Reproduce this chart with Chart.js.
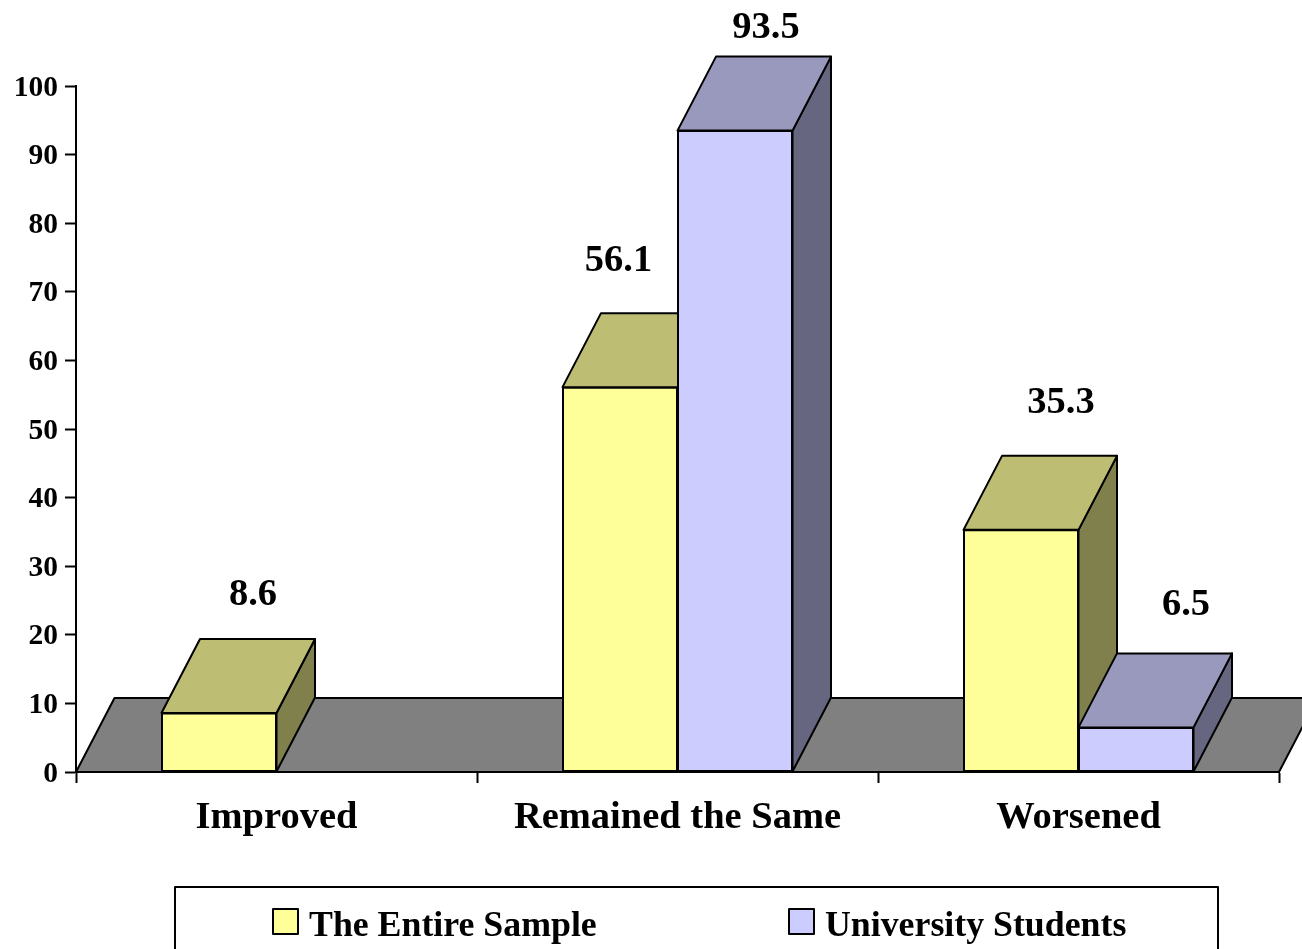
<!DOCTYPE html>
<html>
<head>
<meta charset="utf-8">
<title>Chart</title>
<script src="https://cdn.jsdelivr.net/npm/chart.js@4"></script>
<style>
  html, body { margin: 0; padding: 0; background: #fff; overflow: hidden; }
  canvas { display: block; }
</style>
</head>
<body>
<canvas id="myChart" width="1302" height="949"></canvas>
<script>
var categories = ["Improved", "Remained the Same", "Worsened"];
var entireSample = [8.6, 56.1, 35.3];
var universityStudents = [null, 93.5, 6.5];
var yTicks = [0, 10, 20, 30, 40, 50, 60, 70, 80, 90, 100];

// look of the fake 3d boxes, in pixels
var depthX = 38.5;
var depthY = 74;
var faces = [
  { top: "#BDBD73", side: "#80804D" },
  { top: "#9999BD", side: "#666680" }
];
// value labels do not sit at a fixed place over the bars in the original
var labelShift = [
  [[34, -118], [-1.5, -126], [40, -127]],
  [null, [31, -103], [50, -122]]
];
var legendX = [273, 789];

Chart.defaults.font.family = "'Liberation Serif', serif";
Chart.defaults.font.weight = "bold";
Chart.defaults.color = "#000";

function poly(ctx, pts, fill) {
  ctx.beginPath();
  ctx.moveTo(pts[0][0], pts[0][1]);
  for (var i = 1; i < pts.length; i++) ctx.lineTo(pts[i][0], pts[i][1]);
  ctx.closePath();
  ctx.fillStyle = fill;
  ctx.fill();
  ctx.lineWidth = 2;
  ctx.strokeStyle = "#000";
  ctx.lineJoin = "round";
  ctx.stroke();
}

function drawFaces(chart, index) {
  var ctx = chart.ctx, face = faces[index];
  var values = chart.data.datasets[index].data;
  chart.getDatasetMeta(index).data.forEach(function (bar, i) {
    if (values[i] === null) return;
    var l = bar.x - bar.width / 2, r = bar.x + bar.width / 2, t = bar.y, b = bar.base;
    poly(ctx, [[r, b], [r, t], [r + depthX, t - depthY], [r + depthX, b - depthY]], face.side);
    poly(ctx, [[l, t], [r, t], [r + depthX, t - depthY], [l + depthX, t - depthY]], face.top);
  });
}

var boxes3d = {
  id: "boxes3d",
  beforeDatasetsDraw: function (chart) {
    var x = chart.scales.x, y0 = chart.scales.y.getPixelForValue(0);
    poly(chart.ctx, [
      [x.left, y0], [x.right, y0],
      [x.right + depthX, y0 - depthY], [x.left + depthX, y0 - depthY]
    ], "#808080");
  },
  // the right hand series has to end up on top, chart.js paints it first, so hold it back
  beforeDatasetDraw: function (chart, args) {
    if (args.index === 1) return false;
    drawFaces(chart, 0);
  },
  afterDatasetDraw: function (chart, args) {
    if (args.index !== 0) return;
    drawFaces(chart, 1);
    chart.getDatasetMeta(1).controller.draw();
  },
  afterDatasetsDraw: function (chart) {
    var ctx = chart.ctx;
    ctx.save();
    ctx.fillStyle = "#000";
    ctx.font = "bold 38.5px 'Liberation Serif', serif";
    ctx.textAlign = "center";
    ctx.textBaseline = "middle";
    chart.data.datasets.forEach(function (ds, d) {
      chart.getDatasetMeta(d).data.forEach(function (bar, i) {
        if (ds.data[i] === null) return;
        var s = labelShift[d][i];
        ctx.fillText(ds.data[i].toFixed(1), bar.x + s[0], bar.y + s[1]);
      });
    });
    ctx.restore();
  },
  afterDraw: function (chart) {
    var ctx = chart.ctx;
    ctx.save();
    ctx.lineWidth = 2;
    ctx.strokeStyle = "#000";
    ctx.strokeRect(175, 887, 1043, 80);
    ctx.font = "bold 35.8px 'Liberation Serif', serif";
    ctx.textBaseline = "middle";
    ctx.textAlign = "left";
    chart.data.datasets.forEach(function (ds, d) {
      ctx.fillStyle = ds.backgroundColor;
      ctx.fillRect(legendX[d], 909, 25, 25);
      ctx.strokeRect(legendX[d], 909, 25, 25);
      ctx.fillStyle = "#000";
      ctx.fillText(ds.label, legendX[d] + 36, 927);
    });
    ctx.restore();
  }
};

var ctx = document.getElementById("myChart");
var myChart = new Chart(ctx, {
  type: "bar",
  data: {
    labels: categories,
    datasets: [
      { label: "The Entire Sample", data: entireSample, backgroundColor: "#FFFF99" },
      { label: "University Students", data: universityStudents, backgroundColor: "#CCCCFF" }
    ].map(function (ds) {
      ds.borderColor = "#000";
      ds.borderWidth = 2;
      ds.borderSkipped = false;
      ds.inflateAmount = 0.5;
      ds.barPercentage = 1;
      ds.categoryPercentage = 0.5736;
      return ds;
    })
  },
  options: {
    responsive: false,
    animation: false,
    layout: { padding: { left: 0, right: 23, top: 86, bottom: 0 } },
    plugins: { legend: { display: false }, tooltip: { enabled: false } },
    scales: {
      x: {
        afterFit: function (s) { s.height = 177; },
        border: { color: "#000", width: 2 },
        grid: { drawOnChartArea: false, color: "#000", tickColor: "#000", tickLength: 11, tickWidth: 2 },
        ticks: { font: { size: 38.5, weight: "bold" }, padding: 12, maxRotation: 0, color: "#000" }
      },
      y: {
        min: 0,
        max: 100,
        afterFit: function (s) { s.width = 76; },
        afterBuildTicks: function (s) { s.ticks = yTicks.map(function (v) { return { value: v }; }); },
        border: { color: "#000", width: 2 },
        grid: { drawOnChartArea: false, color: "#000", tickColor: "#000", tickLength: 11, tickWidth: 2 },
        ticks: { font: { size: 29.5, weight: "bold" }, padding: 7, labelOffset: 2, color: "#000" }
      }
    }
  },
  plugins: [boxes3d]
});
</script>
</body>
</html>
